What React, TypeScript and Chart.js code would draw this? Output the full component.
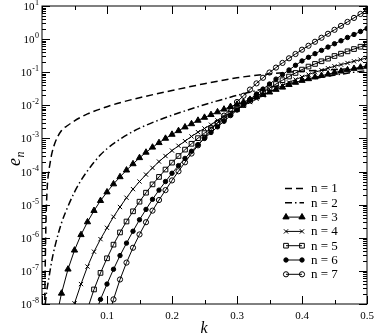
import React, { useEffect, useRef } from 'react';
import { Chart, registerables } from 'chart.js';
import { drawPoint } from 'chart.js/helpers';

Chart.register(...registerables);

// ---- data ----
// shared k grid for the marked series (n = 3..7)
const K_GRID = [
  0.02, 0.03, 0.04, 0.05, 0.06, 0.07, 0.08, 0.09, 0.10,
  0.11, 0.12, 0.13, 0.14, 0.15, 0.16, 0.17, 0.18, 0.19, 0.20,
  0.21, 0.22, 0.23, 0.24, 0.25, 0.26, 0.27, 0.28, 0.29, 0.30,
  0.31, 0.32, 0.33, 0.34, 0.35, 0.36, 0.37, 0.38, 0.39, 0.40,
  0.41, 0.42, 0.43, 0.44, 0.45, 0.46, 0.47, 0.48, 0.49, 0.50,
];

const K_N1 = [0.004, 0.006, 0.008, 0.01, 0.012, 0.015, 0.02, 0.03, 0.04, 0.05, 0.06, 0.07, 0.08, 0.10, 0.12, 0.15, 0.20, 0.25, 0.30, 0.35, 0.40, 0.45, 0.50];
const E_N1 = [6.3e-9, 2.5e-6, 3.2e-5, 8.9e-5, 1.6e-4, 3.4e-4, 7.4e-4, 1.74e-3, 2.5e-3, 3.4e-3, 4.4e-3, 5.5e-3, 6.6e-3, 9.1e-3, 1.2e-2, 1.7e-2, 2.8e-2, 4.5e-2, 6.8e-2, 8.9e-2, 0.107, 0.12, 0.135];

const K_N2 = [0.005, 0.007, 0.01, 0.015, 0.02, 0.03, 0.04, 0.05, 0.06, 0.07, 0.08, 0.09, 0.10, 0.12, 0.14, 0.16, 0.18, 0.20, 0.22, 0.24, 0.26, 0.28, 0.30, 0.32, 0.34, 0.36, 0.38, 0.40, 0.42, 0.44, 0.46, 0.48, 0.50];
const E_N2 = [1.0e-8, 2.24e-8, 5.2e-8, 2.0e-7, 5.6e-7, 2.8e-6, 8.9e-6, 2.4e-5, 5.4e-5, 1.05e-4, 1.9e-4, 3.2e-4, 4.9e-4, 9.5e-4, 1.62e-3, 2.5e-3, 3.6e-3, 5.0e-3, 6.8e-3, 9.1e-3, 1.2e-2, 1.55e-2, 2.0e-2, 2.5e-2, 3.1e-2, 3.8e-2, 4.6e-2, 5.5e-2, 6.5e-2, 7.6e-2, 8.7e-2, 0.1, 0.112];

const K0_N3 = 0.02;
const E_N3 = [
  2.5e-9, 2.1e-8, 1.12e-7, 4.2e-7, 1.23e-6, 3.0e-6, 6.6e-6, 1.32e-5, 2.4e-5,
  4.2e-5, 6.9e-5, 1.1e-4, 1.7e-4, 2.6e-4, 3.8e-4, 5.4e-4, 7.4e-4, 1.0e-3, 1.32e-3,
  1.7e-3, 2.2e-3, 2.75e-3, 3.5e-3, 4.3e-3, 5.2e-3, 6.3e-3, 7.6e-3, 9.1e-3, 1.07e-2,
  1.26e-2, 1.5e-2, 1.78e-2, 2.1e-2, 2.5e-2, 3.0e-2, 3.5e-2, 4.2e-2, 4.9e-2, 5.6e-2,
  6.3e-2, 7.1e-2, 7.9e-2, 8.7e-2, 9.8e-2, 0.107, 0.117, 0.129, 0.141, 0.155,
];

const K0_N4 = 0.04;
const E_N4 = [
  2.0e-9, 1.05e-8, 4.0e-8, 1.35e-7, 3.8e-7, 9.1e-7, 2.0e-6,
  4.3e-6, 8.5e-6, 1.62e-5, 2.95e-5, 5.0e-5, 8.1e-5, 1.29e-4, 2.0e-4, 2.95e-4, 4.3e-4,
  6.0e-4, 8.3e-4, 1.15e-3, 1.55e-3, 2.0e-3, 2.6e-3, 3.5e-3, 4.6e-3, 5.9e-3, 7.6e-3,
  9.8e-3, 1.26e-2, 1.58e-2, 2.0e-2, 2.5e-2, 3.2e-2, 4.0e-2, 4.9e-2, 6.0e-2, 7.2e-2,
  8.5e-2, 0.1, 0.115, 0.132, 0.151, 0.17, 0.19, 0.214, 0.24, 0.27,
];

const K0_N5 = 0.07;
const E_N5 = [
  7.1e-9, 2.75e-8, 8.7e-8, 2.4e-7,
  6.2e-7, 1.45e-6, 3.1e-6, 6.3e-6, 1.23e-5, 2.3e-5, 4.1e-5, 6.9e-5, 1.15e-4, 1.86e-4,
  2.95e-4, 4.6e-4, 6.9e-4, 1.02e-3, 1.45e-3, 2.04e-3, 2.9e-3, 4.0e-3, 5.5e-3, 7.6e-3,
  1.02e-2, 1.38e-2, 1.86e-2, 2.5e-2, 3.3e-2, 4.4e-2, 5.75e-2, 7.4e-2, 9.5e-2, 0.12,
  0.148, 0.178, 0.214, 0.257, 0.309, 0.363, 0.427, 0.501, 0.589, 0.692,
];

const K0_N6 = 0.08;
const E_N6 = [
  4.0e-9, 1.38e-8, 4.0e-8,
  1.12e-7, 2.9e-7, 6.9e-7, 1.58e-6, 3.5e-6, 7.2e-6, 1.45e-5, 2.75e-5, 5.0e-5, 8.9e-5,
  1.51e-4, 2.5e-4, 4.1e-4, 6.5e-4, 1.0e-3, 1.51e-3, 2.24e-3, 3.3e-3, 4.9e-3, 7.2e-3,
  1.05e-2, 1.51e-2, 2.2e-2, 3.1e-2, 4.4e-2, 6.2e-2, 8.5e-2, 0.117, 0.162, 0.219,
  0.282, 0.363, 0.457, 0.575, 0.724, 0.891, 1.12, 1.38, 1.70, 2.09,
];

const K0_N7 = 0.10;
const E_N7 = [
  3.2e-9,
  1.38e-8, 5.5e-8, 1.78e-7, 5.0e-7, 1.26e-6, 2.95e-6, 6.6e-6, 1.38e-5, 2.75e-5, 5.4e-5,
  1.02e-4, 1.9e-4, 3.5e-4, 6.2e-4, 1.07e-3, 1.82e-3, 3.0e-3, 4.9e-3, 7.9e-3, 1.26e-2,
  1.95e-2, 3.0e-2, 4.6e-2, 6.8e-2, 9.8e-2, 0.138, 0.191, 0.263, 0.355, 0.479,
  0.631, 0.832, 1.10, 1.45, 1.91, 2.51, 3.31, 4.37, 5.75, 7.59,
];

const SERIES_LABELS = ['n = 1', 'n = 2', 'n = 3', 'n = 4', 'n = 5', 'n = 6', 'n = 7'];

const X_MAJOR = [0, 0.1, 0.2, 0.3, 0.4, 0.5];
const X_LABELS = ['', '0.1', '0.2', '0.3', '0.4', '0.5'];
const X_MINOR = [0.05, 0.15, 0.25, 0.35, 0.45];
const Y_EXPONENTS = [-8, -7, -6, -5, -4, -3, -2, -1, 0, 1];

// ---- styles ----
const FONT = '"Liberation Serif", "Times New Roman", serif';
const BLACK = '#000000';
const CLEAR = 'rgba(0,0,0,0)';

type Style = {
  dash: number[];
  width: number;
  pointStyle: string | false;
  radius: number;
  fill: string;
  smooth: boolean;
};

const STYLES: Style[] = [
  { dash: [7, 4], width: 1.5, pointStyle: false, radius: 0, fill: CLEAR, smooth: true },
  { dash: [7, 3, 1.5, 3], width: 1.5, pointStyle: false, radius: 0, fill: CLEAR, smooth: true },
  { dash: [], width: 1, pointStyle: 'triangle', radius: 3.6, fill: BLACK, smooth: false },
  { dash: [], width: 1, pointStyle: 'crossRot', radius: 3, fill: BLACK, smooth: false },
  { dash: [], width: 1, pointStyle: 'rect', radius: 3.3, fill: CLEAR, smooth: false },
  { dash: [], width: 1, pointStyle: 'circle', radius: 2.2, fill: BLACK, smooth: false },
  { dash: [], width: 1, pointStyle: 'circle', radius: 2.6, fill: CLEAR, smooth: false },
];

function pairs(ks: number[], es: number[]) {
  return es.map((e, i) => ({ x: ks[i], y: e }));
}
function gridFrom(k0: number) {
  return K_GRID.slice(K_GRID.indexOf(k0));
}

const frameAndLegend = {
  id: 'frameAndLegend',
  afterDraw(chart: any) {
    const { ctx, chartArea, scales } = chart;
    const { left, right, top, bottom } = chartArea;
    const xs = scales.x;
    const ys = scales.y;
    ctx.save();
    ctx.strokeStyle = BLACK;
    ctx.lineWidth = 1;
    ctx.setLineDash([]);
    ctx.strokeRect(left, top, right - left, bottom - top);

    ctx.beginPath();
    X_MAJOR.forEach((v) => {
      const p = Math.round(xs.getPixelForValue(v)) + 0.5;
      ctx.moveTo(p, bottom); ctx.lineTo(p, bottom - 8);
      ctx.moveTo(p, top); ctx.lineTo(p, top + 8);
    });
    X_MINOR.forEach((v) => {
      const p = Math.round(xs.getPixelForValue(v)) + 0.5;
      ctx.moveTo(p, bottom); ctx.lineTo(p, bottom - 4);
      ctx.moveTo(p, top); ctx.lineTo(p, top + 4);
    });
    Y_EXPONENTS.forEach((e) => {
      const p = Math.round(ys.getPixelForValue(Math.pow(10, e))) + 0.5;
      ctx.moveTo(left, p); ctx.lineTo(left + 8, p);
      ctx.moveTo(right, p); ctx.lineTo(right - 8, p);
      if (e < 1) {
        for (let m = 2; m <= 9; m++) {
          const q = Math.round(ys.getPixelForValue(m * Math.pow(10, e))) + 0.5;
          ctx.moveTo(left, q); ctx.lineTo(left + 4, q);
          ctx.moveTo(right, q); ctx.lineTo(right - 4, q);
        }
      }
    });
    ctx.stroke();

    // tick labels
    ctx.fillStyle = BLACK;
    ctx.textBaseline = 'alphabetic';
    ctx.font = `11px ${FONT}`;
    ctx.textAlign = 'center';
    X_MAJOR.forEach((v, i) => {
      if (!X_LABELS[i]) return;
      ctx.fillText(X_LABELS[i], xs.getPixelForValue(v), bottom + 15);
    });
    Y_EXPONENTS.forEach((e) => {
      const p = ys.getPixelForValue(Math.pow(10, e));
      const ex = e < 0 ? '-' + Math.abs(e) : String(e);
      ctx.font = `8px ${FONT}`;
      ctx.textAlign = 'right';
      const ew = ctx.measureText(ex).width;
      ctx.fillText(ex, 39, p - 1);
      ctx.font = `11px ${FONT}`;
      ctx.fillText('10', 39 - ew - 0.5, p + 4);
    });

    // axis titles
    ctx.font = `italic 16px ${FONT}`;
    ctx.textAlign = 'center';
    ctx.fillText('k', 204, 333);
    ctx.save();
    ctx.translate(20, 166);
    ctx.rotate(-Math.PI / 2);
    ctx.textAlign = 'left';
    ctx.font = `italic 18px ${FONT}`;
    ctx.fillText('e', 0, 0);
    const eW = ctx.measureText('e').width;
    ctx.font = `italic 12px ${FONT}`;
    ctx.fillText('n', eW + 0.5, 4);
    ctx.restore();

    // legend
    const rowY0 = 188.5;
    const rowStep = 14.3;
    STYLES.forEach((s, i) => {
      const y = rowY0 + i * rowStep;
      ctx.strokeStyle = BLACK;
      ctx.lineWidth = s.width;
      ctx.setLineDash(s.dash);
      ctx.beginPath();
      if (s.pointStyle) {
        ctx.moveTo(286, y); ctx.lineTo(302, y);
      } else {
        ctx.moveTo(285, y); ctx.lineTo(304, y);
      }
      ctx.stroke();
      ctx.setLineDash([]);
      if (s.pointStyle) {
        ctx.fillStyle = s.fill;
        ctx.lineWidth = 1;
        const opt = { pointStyle: s.pointStyle, radius: s.radius, rotation: 0, borderWidth: 1 };
        drawPoint(ctx, opt as any, 286, y);
        drawPoint(ctx, opt as any, 302, y);
      }
      ctx.fillStyle = BLACK;
      ctx.font = `13px ${FONT}`;
      ctx.textAlign = 'left';
      ctx.textBaseline = 'middle';
      ctx.fillText(SERIES_LABELS[i], 311, y + 0.5);
    });
    ctx.restore();
  },
};

export default function App() {
  const ref = useRef<HTMLCanvasElement | null>(null);
  useEffect(() => {
    if (!ref.current) return;
    const seriesData = [
      pairs(K_N1, E_N1),
      pairs(K_N2, E_N2),
      pairs(gridFrom(K0_N3), E_N3),
      pairs(gridFrom(K0_N4), E_N4),
      pairs(gridFrom(K0_N5), E_N5),
      pairs(gridFrom(K0_N6), E_N6),
      pairs(gridFrom(K0_N7), E_N7),
    ];
    const datasets = seriesData.map((d, i) => {
      const s = STYLES[i];
      return {
        label: SERIES_LABELS[i],
        data: d,
        borderColor: BLACK,
        borderWidth: s.width,
        borderDash: s.dash,
        backgroundColor: s.fill,
        pointStyle: s.pointStyle,
        pointRadius: s.radius,
        pointBackgroundColor: s.fill,
        pointBorderColor: BLACK,
        pointBorderWidth: 1,
        cubicInterpolationMode: s.smooth ? 'monotone' : 'default',
        tension: 0,
        fill: false,
      };
    });
    const chart = new Chart(ref.current, {
      type: 'line',
      data: { datasets } as any,
      options: {
        animation: false,
        responsive: false,
        devicePixelRatio: 1,
        layout: { padding: { left: 42, right: 7, top: 6, bottom: 30 } },
        scales: {
          x: { type: 'linear', min: 0, max: 0.5, display: false },
          y: { type: 'logarithmic', min: 1e-8, max: 10, display: false },
        },
        plugins: { legend: { display: false }, tooltip: { enabled: false } },
        events: [],
      } as any,
      plugins: [frameAndLegend],
    });
    return () => chart.destroy();
  }, []);
  return (
    <div style={{ position: 'absolute', left: 0, top: 0, width: 374, height: 334, background: '#fff' }}>
      <canvas ref={ref} width={374} height={334} style={{ display: 'block' }} />
    </div>
  );
}
